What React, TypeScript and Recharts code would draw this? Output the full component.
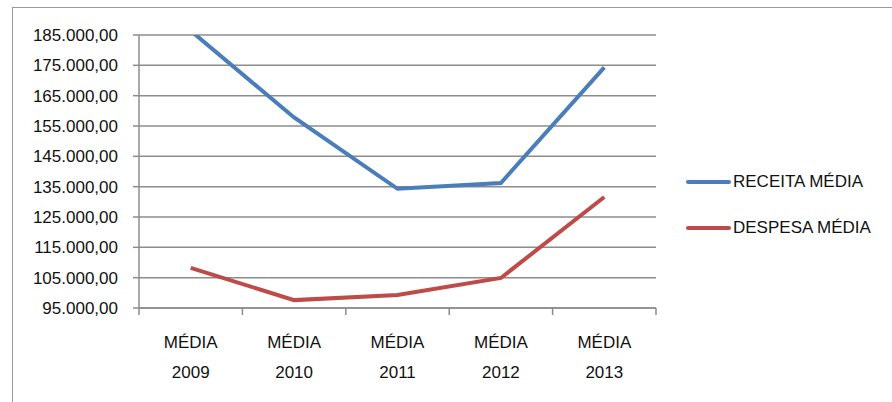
import React from 'react';
import { LineChart, Line, XAxis, YAxis, CartesianGrid } from 'recharts';

const categories = ['MÉDIA 2009', 'MÉDIA 2010', 'MÉDIA 2011', 'MÉDIA 2012', 'MÉDIA 2013'];
const receitaMedia = [186400, 157800, 134300, 136200, 174300];
const despesaMedia = [108200, 97600, 99300, 104900, 131600];
const yTicks = [95000, 105000, 115000, 125000, 135000, 145000, 155000, 165000, 175000, 185000];

const series = [
  { key: 'receita', name: 'RECEITA MÉDIA', color: '#4a7ebb' },
  { key: 'despesa', name: 'DESPESA MÉDIA', color: '#be4b48' },
];

const data = categories.map((c, i) => ({
  name: c,
  receita: receitaMedia[i],
  despesa: despesaMedia[i],
}));

const FONT = '"Liberation Sans", Arial, sans-serif';
const GRID = '#8c8c8c';
const PLOT_W = 517;
const HALF_BAND = PLOT_W / categories.length / 2;
const X_TICK = 7;

// 185000 -> "185.000,00"
const fmtBR = (v: number) => {
  const int = Math.round(v).toString().replace(/\B(?=(\d{3})+(?!\d))/g, '.');
  return `${int},00`;
};

// two-line category label; the last one also closes the axis with a boundary tick
const CategoryTick = (props: any) => {
  const { x, y, payload, index } = props;
  const [a, b] = String(payload.value).split(' ');
  const last = index === categories.length - 1;
  return (
    <g>
      {last && (
        <line x1={x + HALF_BAND} x2={x + HALF_BAND} y1={y - X_TICK} y2={y} stroke={GRID} strokeWidth={1.5} />
      )}
      <text x={x} textAnchor="middle" fontFamily={FONT} fontSize={17} fill="#111">
        <tspan x={x} y={y + 33}>{a}</tspan>
        <tspan x={x} y={y + 63}>{b}</tspan>
      </text>
    </g>
  );
};

export default function App() {
  return (
    <div style={{ position: 'absolute', left: 0, top: 0, width: 892, height: 402, overflow: 'hidden', background: '#fff' }}>
      <div
        style={{
          position: 'absolute',
          left: 12,
          top: 7,
          width: 900,
          height: 420,
          border: '1.5px solid #9a9a9a',
        }}
      />
      <div style={{ position: 'absolute', left: 0, top: 0 }}>
        <LineChart width={892} height={402} data={data} margin={{ top: 35, right: 236, bottom: 0, left: 0 }}>
          <CartesianGrid vertical={false} stroke={GRID} strokeWidth={1.5} />
          <XAxis
            dataKey="name"
            height={94}
            padding={{ left: HALF_BAND, right: HALF_BAND }}
            stroke={GRID}
            strokeWidth={1.5}
            // Excel puts the category ticks between the categories
            tickLine={{ stroke: GRID, strokeWidth: 1.5, transform: `translate(${-HALF_BAND} 0)` }}
            tickSize={X_TICK}
            tickMargin={0}
            interval={0}
            tick={(p: any) => <CategoryTick {...p} />}
          />
          <YAxis
            width={139}
            domain={[95000, 185000]}
            ticks={yTicks}
            interval={0}
            allowDataOverflow
            tickFormatter={fmtBR}
            tickSize={6}
            tickMargin={15}
            stroke={GRID}
            strokeWidth={1.5}
            tick={{ fontFamily: FONT, fontSize: 17, fill: '#111' }}
          />
          {series.map((s) => (
            <Line
              key={s.key}
              dataKey={s.key}
              name={s.name}
              stroke={s.color}
              strokeWidth={4}
              dot={false}
              activeDot={false}
              isAnimationActive={false}
            />
          ))}
        </LineChart>
      </div>
      {/* legend, right of the plot */}
      <div style={{ position: 'absolute', left: 686, top: 159, fontFamily: FONT, fontSize: 17, color: '#111' }}>
        {series.map((s) => (
          <div key={s.key} style={{ display: 'flex', alignItems: 'center', height: 46 }}>
            <div style={{ width: 45, height: 4, background: s.color, borderRadius: 2, marginRight: 2 }} />
            <span>{s.name}</span>
          </div>
        ))}
      </div>
    </div>
  );
}
